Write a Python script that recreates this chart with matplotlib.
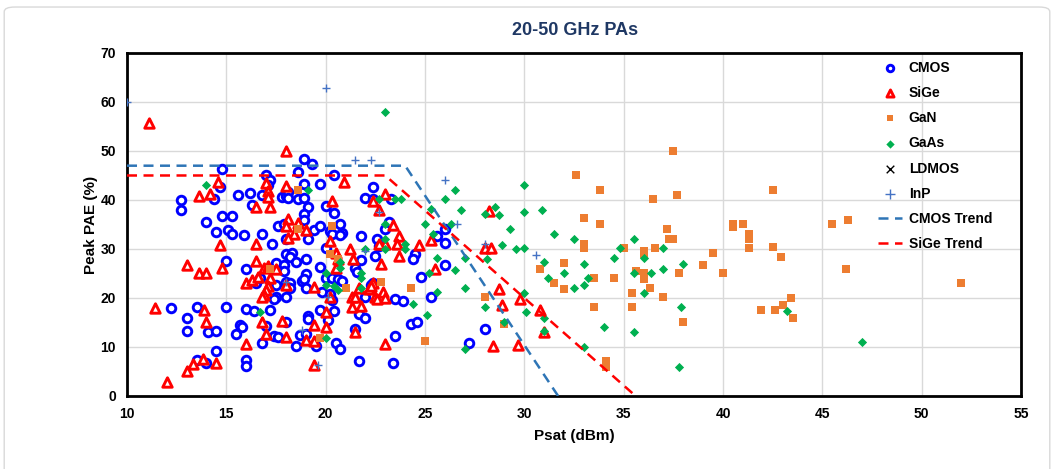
import matplotlib.pyplot as plt
from matplotlib.patches import FancyBboxPatch

plt.rcParams['font.family'] = ['Liberation Sans', 'DejaVu Sans']

# Psat (dBm), Peak PAE (%)
cmos_x = [14.8, 18.9, 19.3, 18.6, 17.0, 14.7, 14.4, 12.7, 12.7, 15.6, 16.2, 16.3, 16.8, 17.2, 17.1,
          17.8, 18.0, 18.1, 18.1, 18.6, 18.9, 18.9, 19.1, 19.7, 18.9, 14.8, 15.3, 14.0,
          18.9, 14.5, 15.1, 15.3, 15.9, 16.8, 17.3, 17.6, 17.9, 19.4, 19.7, 18.0, 19.1, 18.0,
          18.3, 18.2, 18.5, 19.0, 15.0, 16.0, 17.5, 17.9, 17.9, 19.0, 19.7, 16.5, 16.7, 17.5,
          18.0, 18.2, 18.2, 18.8, 19.0, 17.5, 17.4, 18.0, 19.7, 12.2, 13.5, 15.0, 16.0, 16.4,
          17.2, 13.0, 13.0, 14.1, 14.5, 15.7, 15.8, 15.5, 17.0, 17.4, 17.6, 18.0, 18.7, 19.0,
          19.1, 19.1, 19.5, 18.5, 16.8, 14.5, 13.5, 14.0, 16.0, 16.0,
          20.4, 22.4, 22.0, 22.4, 23.3, 20.0, 20.4,
          20.2, 20.3, 20.7, 20.8, 20.7, 21.8, 20.0, 21.8, 22.6, 23.0, 23.2, 22.7, 22.5, 24.5,
          24.4, 25.6, 26.0, 26.0, 26.0, 24.8, 18.9, 20.0, 20.3, 20.6, 20.8, 19.8, 20.2, 20.3,
          21.5, 21.6, 22.0, 22.3, 22.4, 23.5, 23.9, 21.7, 22.0, 25.3, 24.3, 24.6, 23.5, 27.2,
          28.0, 21.7, 23.4, 21.5, 20.5, 20.7, 20.1, 20.4]
cmos_y = [46.4, 48.4, 47.3, 45.7, 45.1, 42.7, 40.1, 40.0, 38.0, 41.0, 41.4, 39.0, 41.0, 44.0, 43.0,
          40.7, 40.8, 41.6, 40.4, 40.3, 40.5, 43.2, 38.6, 43.3, 37.1, 36.7, 36.8, 35.5,
          36.0, 33.5, 33.8, 33.1, 32.8, 33.0, 31.0, 34.6, 35.0, 33.9, 34.6, 32.0, 32.0, 29.0,
          29.2, 28.4, 27.4, 28.0, 27.6, 26.0, 27.1, 26.8, 25.6, 24.8, 26.3, 23.1, 24.1, 22.6,
          23.3, 23.1, 22.0, 23.5, 22.1, 20.2, 19.7, 20.1, 17.6, 17.9, 18.1, 18.1, 17.8, 17.3,
          17.5, 16.0, 13.3, 13.1, 13.3, 14.4, 14.1, 12.6, 14.3, 12.2, 12.0, 15.2, 12.5, 12.6,
          16.3, 15.8, 10.3, 10.1, 10.8, 9.1, 7.3, 6.7, 7.4, 6.2,
          45.1, 42.6, 40.5, 40.2, 40.1, 38.8, 37.3,
          33.6, 33.1, 35.0, 33.3, 32.8, 32.7, 30.2, 27.8, 32.0, 34.1, 35.6, 30.7, 28.6, 29.0,
          28.0, 32.7, 34.1, 31.2, 26.7, 24.3, 23.9, 24.0, 24.1, 23.9, 23.4, 21.2, 20.8, 19.5,
          26.1, 25.3, 20.2, 22.6, 23.0, 19.7, 19.4, 16.7, 15.9, 20.1, 14.7, 15.1, 12.2, 10.8,
          13.6, 7.1, 6.8, 13.6, 10.9, 9.6, 15.6, 17.4]

sige_x = [11.1, 18.0, 14.6, 13.6, 14.2, 17.0, 17.1, 17.1, 16.5, 17.2, 18.0, 18.1,
          18.0, 18.4, 18.6, 19.0, 18.1, 14.7, 16.5, 13.0, 13.6, 14.0, 14.8, 16.5, 16.9, 17.1,
          17.5, 16.0, 16.3, 16.6, 17.2, 17.1, 17.0, 16.9, 16.8, 18.0, 19.4, 11.4, 13.9, 14.0,
          16.8, 17.0, 17.8, 18.0, 19.4, 19.0, 19.4, 16.0, 13.8, 13.3, 14.5, 13.0, 12.0, 19.4,
          20.9, 23.0, 22.4, 20.3, 22.7, 28.2,
          20.2, 20.5, 20.6, 20.5, 21.2, 21.4, 23.4, 23.0, 22.7, 23.7, 23.6, 24.7, 23.7, 25.3,
          28.0, 28.3, 22.8, 25.5, 20.2, 21.7, 21.3, 21.5, 22.2, 22.4, 22.3, 22.9, 22.5, 22.6,
          23.0, 21.3, 21.8, 28.4, 23.0, 21.5, 20.0, 20.0,
          28.7, 28.9, 29.8, 30.8, 31.0, 29.7]
sige_y = [55.8, 49.9, 43.7, 40.9, 41.2, 43.5, 41.9, 40.6, 38.5, 38.5, 42.9, 36.2,
          34.7, 33.1, 35.3, 33.9, 32.2, 30.9, 31.1, 26.7, 25.0, 25.0, 26.2, 27.6, 26.2, 26.6,
          26.0, 23.1, 23.6, 24.3, 24.0, 22.5, 21.6, 20.6, 20.3, 22.7, 22.2, 18.0, 17.6, 15.0,
          15.0, 12.6, 15.4, 12.1, 14.5, 11.5, 11.2, 10.7, 7.6, 6.5, 6.7, 5.0, 2.9, 6.3,
          43.6, 41.3, 39.7, 39.7, 38.0, 37.8,
          31.6, 29.2, 28.0, 26.1, 30.0, 28.0, 34.9, 31.1, 31.1, 32.7, 31.1, 30.9, 28.5, 31.8,
          30.3, 30.3, 27.0, 26.0, 20.2, 22.0, 20.1, 20.1, 21.8, 23.1, 22.5, 21.2, 20.3, 19.7,
          19.9, 18.1, 18.4, 10.1, 10.7, 13.1, 14.1, 17.1,
          21.9, 18.5, 19.8, 17.6, 13.0, 10.5]

gan_x = [18.6, 18.6, 17.2, 19.7, 20.3, 20.2, 20.6, 21.0, 22.8, 24.3, 25.0, 28.0, 29.0,
         37.5, 32.6, 33.8, 36.5, 37.7, 33.0, 33.8, 33.0, 33.0, 30.8, 32.0, 31.5, 32.0, 33.5,
         35.0, 36.0, 36.0, 36.6, 37.2, 37.3, 37.5, 35.6, 36.0, 36.0, 37.8, 36.3, 35.4, 37.0,
         34.5, 33.5, 35.4, 34.1, 34.1,
         42.5, 40.5, 40.5, 41.0, 41.3, 41.3, 41.3, 42.5, 42.9, 39.5, 39.0, 40.0, 38.0, 45.5,
         46.3, 46.2, 43.4, 43.0, 43.5, 41.9, 42.6, 52.0]
gan_y = [42.1, 34.1, 26.0, 11.9, 34.6, 29.0, 28.0, 22.1, 23.3, 22.1, 11.3, 20.1, 14.7,
         50.1, 45.0, 42.0, 40.1, 41.0, 36.3, 35.0, 31.0, 30.2, 26.0, 27.1, 23.1, 21.8, 24.1,
         30.1, 29.5, 28.9, 30.1, 34.1, 32.1, 32.1, 25.6, 25.1, 23.9, 25.1, 22.1, 21.1, 20.1,
         24.1, 18.1, 18.1, 7.1, 6.0,
         42.0, 35.0, 34.5, 35.0, 33.1, 32.0, 30.1, 30.5, 28.4, 29.1, 26.7, 25.1, 15.1, 35.0,
         36.0, 26.0, 19.9, 18.6, 16.0, 17.5, 17.5, 23.1]

gaas_x = [14.0, 19.1, 16.7, 23.0, 22.7, 23.5, 23.8, 26.5, 26.0, 25.3, 26.8, 28.0, 28.5,
          20.7, 20.7, 22.0, 23.0, 23.0, 23.0, 24.0, 24.0, 25.0, 25.4, 26.3, 28.7, 25.6, 27.0,
          28.1, 25.2, 26.5, 20.0, 20.0, 20.4, 20.6, 21.8, 21.8, 21.8, 24.4, 25.1, 25.6, 27.0,
          28.0, 27.0, 20.0,
          30.0, 30.0, 30.9, 29.3, 31.5, 32.5, 28.9, 29.6, 30.0, 31.0, 32.0, 31.2, 32.5, 33.0,
          33.2, 33.0, 34.8, 35.5, 34.5, 36.0, 37.0, 35.5, 36.4, 37.0, 36.0, 30.0, 30.1, 31.0,
          29.0, 31.0, 34.0, 35.5, 33.0, 37.8, 37.9, 38.0, 43.2, 47.0]
gaas_y = [43.1, 42.1, 17.1, 58.0, 40.1, 40.1, 40.1, 42.0, 40.1, 38.1, 38.0, 37.1, 38.5,
          27.3, 26.1, 30.0, 35.2, 32.0, 30.0, 31.0, 30.0, 35.0, 33.1, 35.0, 37.0, 28.1, 28.1,
          28.0, 25.1, 25.8, 25.1, 22.7, 22.5, 21.6, 25.1, 24.0, 22.0, 18.7, 16.5, 21.2, 22.1,
          18.1, 9.6, 11.8,
          43.1, 37.5, 38.0, 34.1, 33.1, 32.1, 30.9, 29.9, 30.1, 27.4, 25.1, 24.1, 22.1, 27.0,
          24.1, 22.6, 30.1, 32.1, 28.1, 28.1, 30.1, 25.1, 25.1, 26.0, 21.1, 21.1, 17.1, 16.0,
          15.2, 13.2, 14.1, 13.1, 10.0, 6.0, 18.1, 27.0, 17.4, 11.1]

ldmos_x = []
ldmos_y = []

inp_x = [10.0, 20.0, 21.5, 22.3, 26.0, 26.6, 28.0, 30.6, 22.0, 22.7, 20.1, 18.0, 18.8, 19.6]
inp_y = [60.0, 62.9, 48.1, 48.1, 44.1, 35.2, 31.1, 28.7, 29.5, 37.5, 20.2, 23.3, 13.4, 6.3]

cmos_trend_x = [10, 24.0, 31.7]
cmos_trend_y = [47, 47, 0]
sige_trend_x = [10, 23.0, 35.6]
sige_trend_y = [45, 45, 0]

fig = plt.figure(figsize=(10.54, 4.69), dpi=100)
ax = fig.add_axes([0.1205, 0.1557, 0.8482, 0.7313])

ax.scatter(cmos_x, cmos_y, s=38, marker='o', facecolors='white', edgecolors='#0000FF',
           linewidths=2.1, label='CMOS', zorder=3)
ax.scatter(sige_x, sige_y, s=46, marker='^', facecolors='white', edgecolors='#FF0000',
           linewidths=2.1, label='SiGe', zorder=3)
ax.scatter(gan_x, gan_y, s=26, marker='s', color='#ED7D31', linewidths=0,
           label='GaN', zorder=3)
ax.scatter(gaas_x, gaas_y, s=22, marker='D', color='#00B050', linewidths=0,
           label='GaAs', zorder=3)
ax.scatter(ldmos_x, ldmos_y, s=30, marker='x', color='black', linewidths=1,
           label='LDMOS', zorder=3)
ax.scatter(inp_x, inp_y, s=40, marker='+', color='#4472C4', linewidths=1,
           label='InP', zorder=3)
ax.plot(cmos_trend_x, cmos_trend_y, color='#2E75B6', lw=1.8, ls=(0, (4, 2.6)),
        label='CMOS Trend', zorder=4)
ax.plot(sige_trend_x, sige_trend_y, color='#FF0000', lw=1.8, ls=(0, (4, 2.6)),
        label='SiGe Trend', zorder=4)

ax.set_xlim(10, 55)
ax.set_ylim(0, 70)
ax.set_xticks(range(10, 56, 5))
ax.set_yticks(range(0, 71, 10))
ax.grid(True, color='#D9D9D9', lw=1)
ax.set_axisbelow(True)
for sp in ax.spines.values():
    sp.set_linewidth(2)
    sp.set_color('black')
ax.tick_params(length=0, pad=8, labelsize=10)
for lab in ax.get_xticklabels() + ax.get_yticklabels():
    lab.set_fontweight('bold')

ax.set_xlabel('Psat (dBm)', fontsize=11, fontweight='bold', labelpad=6)
ax.set_ylabel('Peak PAE (%)', fontsize=11, fontweight='bold', labelpad=2)
fig.text(0.5455, 0.934, '20-50 GHz PAs', ha='center', va='center',
         fontsize=13, fontweight='bold', color='#1F3864')

leg = ax.legend(loc='upper left', bbox_to_anchor=(0.834, 0.994), frameon=False,
                prop={'weight': 'bold', 'size': 10}, labelspacing=0.81,
                handlelength=1.7, handletextpad=0.5, borderaxespad=0)
for h, sz in zip(leg.legend_handles[:6], [22, 26, 20, 18, 30, 45]):
    h.set_sizes([sz])

fig.patches.append(FancyBboxPatch((0.004, -0.05), 0.992, 1.035,
                                  boxstyle='round,pad=0,rounding_size=0.01',
                                  transform=fig.transFigure, fill=False,
                                  edgecolor='#D9D9D9', lw=1))

fig.savefig('out.png', dpi=100)
